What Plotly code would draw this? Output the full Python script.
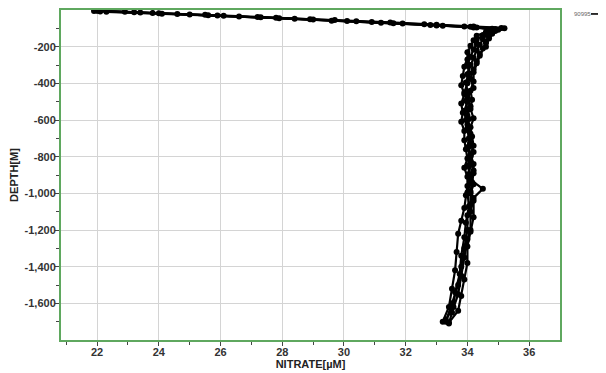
import plotly.graph_objects as go

# ---- data ----
cast1_depth = [-5, -12, -22, -32, -45, -58, -70, -82, -92, -100, -115, -135, -160, -190, -220, -260, -300, -350, -400, -450, -500, -550, -600, -650, -700, -750, -800, -850, -900, -950, -1000, -1060, -1120, -1200, -1300, -1400, -1500, -1600, -1700]
cast1_no3 = [21.9, 23.2, 24.6, 26.1, 27.9, 29.6, 31.2, 32.8, 34.1, 35.2, 34.9, 34.6, 34.5, 34.4, 34.3, 34.2, 34.1, 34.0, 34.0, 33.9, 34.0, 33.9, 33.95, 34.0, 34.05, 34.0, 34.1, 34.0, 34.1, 34.2, 34.1, 34.1, 34.0, 34.0, 33.9, 33.8, 33.7, 33.5, 33.3]

cast2_depth = [-8, -16, -26, -38, -50, -62, -74, -86, -96, -110, -125, -145, -175, -200, -240, -280, -325, -375, -425, -475, -525, -575, -625, -675, -725, -775, -825, -875, -925, -975, -1025, -1100, -1200, -1250, -1350, -1450, -1550, -1650, -1710]
cast2_no3 = [22.1, 23.8, 25.5, 27.2, 28.9, 30.4, 31.9, 33.2, 34.3, 34.9, 34.8, 34.7, 34.6, 34.6, 34.4, 34.3, 34.2, 34.1, 34.2, 34.0, 34.1, 34.0, 34.0, 34.1, 34.1, 34.2, 34.1, 34.2, 34.1, 34.5, 34.2, 34.1, 34.1, 34.0, 33.9, 33.8, 33.7, 33.5, 33.4]

cast3_depth = [-4, -10, -18, -28, -40, -52, -65, -78, -90, -104, -120, -140, -165, -195, -230, -270, -310, -360, -410, -460, -510, -560, -610, -660, -710, -760, -810, -860, -910, -960, -1010, -1080, -1150, -1220, -1320, -1420, -1520, -1620, -1700]
cast3_no3 = [22.0, 22.9, 24.0, 25.6, 27.3, 29.0, 30.9, 32.6, 33.9, 34.9, 34.6, 34.3, 34.2, 34.1, 34.0, 34.0, 33.9, 33.85, 33.8, 33.9, 33.8, 33.85, 33.8, 33.9, 33.9, 33.95, 34.0, 33.9, 34.0, 34.0, 33.95, 33.9, 33.8, 33.7, 33.65, 33.6, 33.5, 33.4, 33.2]

cast4_depth = [-10, -20, -30, -42, -55, -68, -80, -90, -98, -108, -130, -155, -180, -210, -250, -290, -340, -390, -440, -490, -540, -590, -640, -690, -740, -790, -840, -890, -940, -990, -1040, -1130, -1210, -1290, -1380, -1470, -1560, -1640, -1705]
cast4_no3 = [22.3, 24.1, 25.9, 27.8, 29.7, 31.5, 33.0, 34.2, 35.1, 35.0, 34.8, 34.7, 34.6, 34.5, 34.4, 34.3, 34.2, 34.2, 34.1, 34.15, 34.1, 34.2, 34.1, 34.15, 34.2, 34.1, 34.2, 34.2, 34.15, 34.1, 34.2, 34.2, 34.1, 34.0, 34.0, 33.9, 33.8, 33.7, 33.4]

cast5_depth = [-3, -14, -24, -36, -48, -60, -72, -84, -95, -102, -118, -138, -162, -185, -215, -255, -295, -345, -395, -445, -495, -545, -595, -645, -695, -745, -795, -845, -895, -945, -995, -1070, -1160, -1240, -1340, -1440, -1540, -1620, -1690]
cast5_no3 = [22.0, 23.4, 25.0, 26.6, 28.4, 30.1, 31.6, 33.0, 34.2, 34.8, 34.7, 34.5, 34.3, 34.3, 34.2, 34.1, 34.0, 34.05, 33.95, 34.0, 33.95, 34.0, 34.05, 34.0, 34.1, 34.05, 34.1, 34.1, 34.05, 34.1, 34.0, 34.05, 33.95, 33.9, 33.8, 33.75, 33.6, 33.55, 33.3]

series_name = "90995"
x_tick_vals = [22, 24, 26, 28, 30, 32, 34, 36]
x_tick_text = ["22", "24", "26", "28", "30", "32", "34", "36"]
x_minor_vals = [21, 23, 25, 27, 29, 31, 33, 35]
y_tick_vals = [-200, -400, -600, -800, -1000, -1200, -1400, -1600]
y_tick_text = ["-200", "-400", "-600", "-800", "-1,000", "-1,200", "-1,400", "-1,600"]
y_minor_vals = [-100, -300, -500, -700, -900, -1100, -1300, -1500, -1700]

casts = [(cast1_no3, cast1_depth), (cast2_no3, cast2_depth),
         (cast3_no3, cast3_depth), (cast4_no3, cast4_depth),
         (cast5_no3, cast5_depth)]
xs, ys = [], []
for cx, cy in casts:
    xs += cx + [None]
    ys += cy + [None]

fig = go.Figure()
fig.add_trace(go.Scatter(
    x=xs, y=ys, mode="lines+markers", name=series_name,
    line=dict(color="#000000", width=2.2),
    marker=dict(color="#000000", size=6, symbol="circle"),
    connectgaps=False, showlegend=False,
))

GREEN = "#5fa85f"
tickfont = dict(family="Liberation Sans, Arial, sans-serif", size=11, color="#333333", weight="bold")
titlefont = dict(family="Liberation Sans, Arial, sans-serif", size=11, color="#222222", weight="bold")

# page body has an 8px margin: figure is 598x365 so it fills the 606x373 window
fig.update_layout(
    width=598, height=365,
    margin=dict(l=53, r=46, t=2, b=33),
    paper_bgcolor="white", plot_bgcolor="white",
    showlegend=False,
    xaxis=dict(
        range=[20.83, 37.0], tickmode="array", tickvals=x_tick_vals, ticktext=x_tick_text,
        showgrid=True, gridcolor="#d4d4d4", gridwidth=1, zeroline=False,
        showline=True, linecolor=GREEN, linewidth=2, mirror=True,
        ticks="outside", ticklen=4, tickcolor="#444444", tickwidth=1,
        minor=dict(tickmode="array", tickvals=x_minor_vals,
                   ticks="outside", ticklen=3, tickcolor="#444444", showgrid=False),
        tickfont=tickfont, ticklabelstandoff=-3, automargin=False,
        title=dict(text="NITRATE[µM]", font=titlefont, standoff=0),
    ),
    yaxis=dict(
        range=[-1800, 0], tickmode="array", tickvals=y_tick_vals, ticktext=y_tick_text,
        showgrid=True, gridcolor="#d4d4d4", gridwidth=1, zeroline=False,
        showline=True, linecolor=GREEN, linewidth=2, mirror=True,
        ticks="outside", ticklen=4, tickcolor="#444444", tickwidth=1,
        minor=dict(tickmode="array", tickvals=y_minor_vals,
                   ticks="outside", ticklen=3, tickcolor="#444444", showgrid=False),
        tickfont=tickfont, ticklabelstandoff=-3, automargin=False,
        title=dict(text="DEPTH[M]", font=titlefont, standoff=4),
    ),
)

# legend-like label at top right
fig.add_annotation(xref="paper", yref="paper", x=1.024, y=0.988, xanchor="left", yanchor="middle",
                   text=series_name, showarrow=False,
                   font=dict(family="Liberation Sans, Arial, sans-serif", size=6, color="#666666"))
fig.add_shape(type="line", xref="paper", yref="paper", x0=1.062, x1=1.088, y0=0.988, y1=0.988,
              line=dict(color="#000000", width=1.6))
fig.add_shape(type="circle", xref="paper", yref="paper", x0=1.080, x1=1.090, y0=0.979, y1=0.997,
              fillcolor="#000000", line=dict(color="#000000", width=0))

fig.write_html("out.html")
